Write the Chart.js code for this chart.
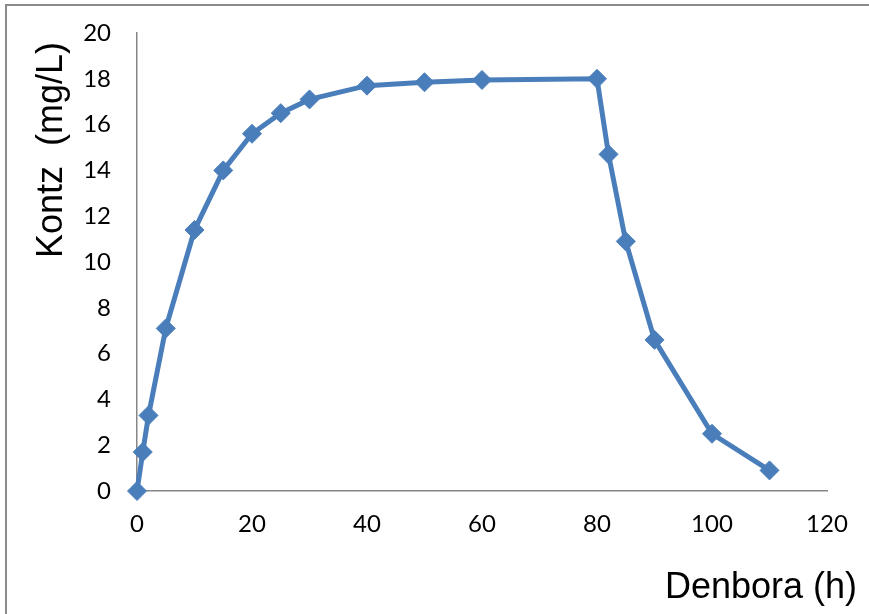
<!DOCTYPE html>
<html>
<head>
<meta charset="utf-8">
<script src="https://cdn.jsdelivr.net/npm/chart.js@4"></script>
<style>
  html, body { margin: 0; padding: 0; background: #ffffff; }
  #wrap { position: relative; width: 869px; height: 614px; overflow: hidden; }
  #frame { position: absolute; left: 5px; top: 4px; width: 1000px; height: 800px;
           border-left: 2px solid #8a8a8a; border-top: 2px solid #8a8a8a; }
  #c { position: absolute; left: 0; top: 0; }
</style>
</head>
<body>
<div id="wrap">
  <div id="frame"></div>
  <canvas id="c" width="869" height="614"></canvas>
</div>
<script>
// Sampling times (h) and measured concentration (mg/L)
const hours = [0, 1, 2, 5, 10, 15, 20, 25, 30, 40, 50, 60, 80, 82, 85, 90, 100, 110];
const concentration = [0, 1.7, 3.3, 7.1, 11.4, 14.0, 15.6, 16.5, 17.1, 17.7, 17.85, 17.95, 18.0, 14.7, 10.9, 6.6, 2.5, 0.9];

const xAxisTitle = 'Denbora (h)';
const yAxisTitle = 'Kontz  (mg/L)';

const blue = '#4A7EBB';
const axisGray = '#868686';
const tickFont = { family: 'Lato', size: 24 };
const titleFont = '36px "Liberation Sans", Arial, sans-serif';

// Axis titles: the y title hangs near the top of the axis, the x title
// sits to the lower right, past the end of the axis
const axisTitlesPlugin = {
  id: 'axisTitles',
  afterDraw(chart) {
    const { ctx } = chart;
    const xs = chart.scales.x;
    const ys = chart.scales.y;
    ctx.save();
    ctx.font = titleFont;
    ctx.fillStyle = '#000000';

    ctx.textAlign = 'right';
    ctx.textBaseline = 'alphabetic';
    ctx.fillText(xAxisTitle, xs.right + 30, xs.top + 107);

    ctx.translate(ys.left + 52, ys.top + 9);
    ctx.rotate(-Math.PI / 2);
    ctx.textAlign = 'right';
    ctx.textBaseline = 'middle';
    ctx.fillText(yAxisTitle, 0, 0);
    ctx.restore();
  }
};

new Chart(document.getElementById('c'), {
  type: 'line',
  data: {
    datasets: [{
      data: hours.map((h, i) => ({ x: h, y: concentration[i] })),
      borderColor: blue,
      backgroundColor: blue,
      borderWidth: 5,
      pointStyle: 'rectRot',
      pointRadius: 9.5,
      pointBorderWidth: 1,
      pointBorderColor: blue,
      pointBackgroundColor: blue,
      tension: 0,
      clip: false
    }]
  },
  options: {
    responsive: false,
    animation: false,
    layout: { padding: { top: 33, right: 42, bottom: 0, left: 0 } },
    plugins: { legend: { display: false }, tooltip: { enabled: false } },
    scales: {
      x: {
        type: 'linear',
        min: 0, max: 120,
        grid: { display: false, drawTicks: false },
        border: { display: true, color: axisGray, width: 1.5 },
        ticks: { stepSize: 20, color: '#000000', font: tickFont, padding: 19, maxRotation: 0 },
        afterFit(scale) {
          scale.height = 123;
          scale.paddingLeft = 0;
          scale.paddingRight = 0;
        }
      },
      y: {
        type: 'linear',
        min: 0, max: 20,
        grid: { display: false, drawTicks: false },
        border: { display: true, color: axisGray, width: 1.5 },
        ticks: { stepSize: 2, color: '#000000', font: tickFont, padding: 26 },
        afterFit(scale) {
          scale.width = 137;
          scale.paddingTop = 0;
          scale.paddingBottom = 0;
        }
      }
    }
  },
  plugins: [axisTitlesPlugin]
});
</script>
</body>
</html>
